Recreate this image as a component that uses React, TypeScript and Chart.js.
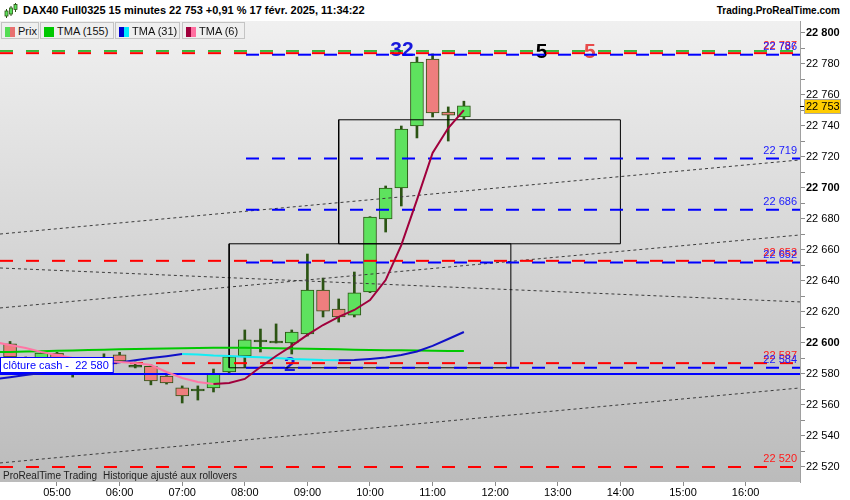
import React, { useEffect, useRef } from 'react';
import { Chart, registerables } from 'chart.js';

Chart.register(...registerables);

const FONT = '"Liberation Sans", Arial, Helvetica, sans-serif';

// ---- data (time in decimal hours, 15-minute bars) ----
const BAR_TIMES = [4.25, 4.5, 4.75, 5, 5.25, 5.5, 5.75, 6, 6.25, 6.5, 6.75, 7, 7.25, 7.5, 7.75, 8, 8.25, 8.5, 8.75, 9, 9.25, 9.5, 9.75, 10, 10.25, 10.5, 10.75, 11, 11.25, 11.5];
const OPEN = [22599.5, 22590, 22585, 22593.5, 22588, 22584, 22587, 22592.3, 22585, 22585, 22578.7, 22571, 22569.7, 22571, 22581.3, 22591.6, 22601.3, 22600.6, 22600, 22605.8, 22634.2, 22621.9, 22618, 22632.9, 22680, 22700, 22740, 22783.2, 22749, 22745.8];
const HIGH = [22601, 22591, 22594, 22594, 22589, 22588, 22593, 22594, 22587.7, 22586, 22579, 22572.3, 22572.3, 22583.2, 22592, 22608.4, 22609, 22612.3, 22608.4, 22657.4, 22641.9, 22628.4, 22645.8, 22681.5, 22701.3, 22740, 22784.5, 22786.5, 22752.3, 22756];
const LOW = [22589, 22584, 22584, 22585, 22578, 22582, 22586, 22587.5, 22583.9, 22573, 22573.5, 22561.3, 22563.2, 22568.4, 22580, 22584.5, 22594.2, 22600, 22592.9, 22604.5, 22616.8, 22613.5, 22616.8, 22632.5, 22671.6, 22688.4, 22732.3, 22745.8, 22730.3, 22744.5];
const CLOSE = [22591, 22586, 22593.5, 22588, 22584, 22587, 22590, 22588.4, 22585, 22575.5, 22574.2, 22565.8, 22569.7, 22580, 22591, 22602, 22601.3, 22600.6, 22607, 22634.2, 22620.6, 22616.8, 22632.3, 22681.3, 22700, 22738, 22781.3, 22748.4, 22747, 22753];

const TMA_TIMES = [4, 4.25, 4.5, 4.75, 5, 5.25, 5.5, 5.75, 6, 6.25, 6.5, 6.75, 7, 7.25, 7.5, 7.75, 8, 8.25, 8.5, 8.75, 9, 9.25, 9.5, 9.75, 10, 10.25, 10.5, 10.75, 11, 11.25, 11.5];
const TMA155 = [22594.1, 22594.2, 22594.5, 22594.7, 22595.0, 22595.2, 22595.5, 22595.7, 22595.9, 22596.1, 22596.3, 22596.5, 22596.6, 22596.8, 22596.9, 22597.0, 22597.0, 22596.8, 22596.6, 22596.5, 22596.3, 22596.1, 22595.9, 22595.7, 22595.5, 22595.4, 22595.3, 22595.2, 22595.0, 22594.9, 22594.8];
const TMA31 = [22576.6, 22577.9, 22579.4, 22580.6, 22582.1, 22583.5, 22584.8, 22586.1, 22587.5, 22588.8, 22590.3, 22591.5, 22592.9, 22592.5, 22591.9, 22591.6, 22591.2, 22590.8, 22590.3, 22589.7, 22589.4, 22589.0, 22588.9, 22589.0, 22589.7, 22590.6, 22592.3, 22594.5, 22598.1, 22602.6, 22607.1];
const TMA6 = [22600.6, 22598.7, 22596.8, 22594.2, 22592.3, 22590.3, 22589.7, 22588.4, 22587.7, 22587.1, 22585.8, 22581.3, 22577.4, 22574.8, 22573.5, 22574.2, 22576.8, 22584.5, 22591.6, 22598.1, 22605.2, 22611.6, 22616.8, 22621.3, 22627.7, 22640.6, 22663.2, 22692.3, 22722.6, 22738.7, 22750.3];

const RED_LEVELS = [22787, 22653, 22587, 22520];
const BLUE_LEVELS = [22786, 22719, 22686, 22652, 22584];
const BLUE_LEVEL_START = 8;
const GREEN_LEVEL = 22788.4;
const CASH_CLOSE = 22580;
const LAST_PRICE = 22753;

const RECT_X0 = [7.75, 9.5];
const RECT_X1 = [12.25, 14];
const RECT_Y0 = [22584, 22664];
const RECT_Y1 = [22664, 22744];

const TREND_Y_START = [22670.3, 22648.4, 22622.6, 22522.6];
const TREND_Y_END = [22718.1, 22626.5, 22669.7, 22571.0];

const MARK_TEXT = ['32', '5', '5', '2'];
const MARK_X = [10.51, 12.74, 13.51, 8.72];
const MARK_Y = [22789, 22787.5, 22787.5, 22585.8];
const MARK_COLOR = ['#1818dc', '#000000', '#e84a4a', '#1818dc'];

const HOUR_TICKS = [5, 6, 7, 8, 9, 10, 11, 12, 13, 14, 15, 16];
const Y_TICK_MIN = 22520;
const Y_TICK_MAX = 22800;

const X_MIN = 4.0895;
const X_MAX = 16.869;
const Y_MIN = 22510.32;
const Y_MAX = 22807.74;

// ---- styles ----
const GREEN_BODY = '#5ee25e';
const RED_BODY = '#ee7e7e';
const DARK = '#2b5413';
const RED = '#ff0000';
const BLUE = '#0000ff';

const fmt = (v: number) => Math.round(v).toString().replace(/\B(?=(\d{3})+(?!\d))/g, ' ');

function buildConfig(): any {
  const wickData = BAR_TIMES.map((t, i) => ({ x: t, y: [LOW[i], HIGH[i]] }));
  const bodyData = BAR_TIMES.map((t, i) => {
    const o = OPEN[i];
    const c = CLOSE[i];
    if (Math.abs(o - c) < 0.3) return { x: t, y: [c - 0.6, c + 0.6] };
    return { x: t, y: [Math.min(o, c), Math.max(o, c)] };
  });
  const bodyColors = BAR_TIMES.map((_, i) =>
    CLOSE[i] > OPEN[i] + 0.3 ? GREEN_BODY : CLOSE[i] < OPEN[i] - 0.3 ? RED_BODY : DARK
  );

  const line = (extra: any) => ({
    type: 'line',
    pointRadius: 0,
    pointHoverRadius: 0,
    fill: false,
    tension: 0,
    borderCapStyle: 'butt',
    ...extra,
  });

  const datasets: any[] = [
    {
      type: 'bar',
      data: wickData,
      backgroundColor: DARK,
      borderWidth: 0,
      barThickness: 2,
      grouped: false,
      order: 100,
    },
    {
      type: 'bar',
      data: bodyData,
      backgroundColor: bodyColors,
      borderColor: DARK,
      borderWidth: 1,
      borderSkipped: false,
      barThickness: 13,
      grouped: false,
      order: 99,
    },
  ];

  TREND_Y_START.forEach((ys, i) => {
    datasets.push(
      line({
        data: [{ x: X_MIN, y: ys }, { x: X_MAX, y: TREND_Y_END[i] }],
        borderColor: '#3c3c3c',
        borderWidth: 1,
        borderDash: [3, 3],
        order: 50,
      })
    );
  });

  RECT_X0.forEach((x0, i) => {
    const x1 = RECT_X1[i];
    const y0 = RECT_Y0[i];
    const y1 = RECT_Y1[i];
    datasets.push(
      line({
        data: [
          { x: x0, y: y0 },
          { x: x1, y: y0 },
          { x: x1, y: y1 },
          { x: x0, y: y1 },
          { x: x0, y: y0 },
        ],
        borderColor: '#000000',
        borderWidth: 1,
        order: 40,
      })
    );
  });

  datasets.push(
    line({
      data: [{ x: X_MIN, y: GREEN_LEVEL }, { x: X_MAX, y: GREEN_LEVEL }],
      borderColor: '#00a800',
      borderWidth: 1.5,
      borderDash: [13, 13],
      order: 29,
    })
  );
  RED_LEVELS.forEach((v) => {
    datasets.push(
      line({
        data: [{ x: X_MIN, y: v }, { x: X_MAX, y: v }],
        borderColor: RED,
        borderWidth: 2,
        borderDash: [13, 13],
        order: 30,
      })
    );
  });
  BLUE_LEVELS.forEach((v) => {
    datasets.push(
      line({
        data: [{ x: BLUE_LEVEL_START, y: v }, { x: X_MAX, y: v }],
        borderColor: BLUE,
        borderWidth: 2,
        borderDash: [13, 13],
        borderDashOffset: 24.8,
        order: 30,
      })
    );
  });
  datasets.push(
    line({
      data: [{ x: X_MIN, y: CASH_CLOSE }, { x: X_MAX, y: CASH_CLOSE }],
      borderColor: BLUE,
      borderWidth: 2,
      order: 28,
    })
  );

  datasets.push(
    line({
      data: TMA_TIMES.map((t, i) => ({ x: t, y: TMA155[i] })),
      borderColor: '#00c800',
      borderWidth: 2,
      order: 10,
    })
  );
  datasets.push(
    line({
      data: TMA_TIMES.map((t, i) => ({ x: t, y: TMA31[i] })),
      borderColor: '#1010c8',
      borderWidth: 2,
      segment: {
        borderColor: (c: any) => (c.p1.parsed.y >= c.p0.parsed.y ? '#1010c8' : '#12eef5'),
      },
      order: 9,
    })
  );
  datasets.push(
    line({
      data: TMA_TIMES.map((t, i) => ({ x: t, y: TMA6[i] })),
      borderColor: '#a0003c',
      borderWidth: 2,
      segment: {
        borderColor: (c: any) => (c.p1.parsed.y >= c.p0.parsed.y ? '#a0003c' : '#ff76a4'),
      },
      order: 8,
    })
  );

  const yTicks: number[] = [];
  for (let v = Y_TICK_MIN; v <= Y_TICK_MAX; v += 10) yTicks.push(v);

  const overlay = {
    id: 'overlay',
    beforeDraw(chart: any) {
      const { ctx, chartArea: a } = chart;
      const g = ctx.createLinearGradient(0, a.top, 0, a.bottom);
      g.addColorStop(0, '#f0f0f0');
      g.addColorStop(1, '#bbbbbb');
      ctx.save();
      ctx.fillStyle = g;
      ctx.fillRect(a.left, a.top, a.right - a.left, a.bottom - a.top);
      ctx.restore();
    },
    beforeDatasetsDraw(chart: any) {
      const { ctx, scales } = chart;
      ctx.save();
      ctx.font = `bold 21px ${FONT}`;
      ctx.textAlign = 'center';
      ctx.textBaseline = 'middle';
      MARK_TEXT.forEach((txt, i) => {
        ctx.fillStyle = MARK_COLOR[i];
        ctx.fillText(txt, scales.x.getPixelForValue(MARK_X[i]), scales.y.getPixelForValue(MARK_Y[i]));
      });
      ctx.restore();
    },
    afterDatasetsDraw(chart: any) {
      const { ctx, chartArea: a, scales } = chart;
      const y = scales.y;
      ctx.save();
      ctx.font = `11px ${FONT}`;
      ctx.textAlign = 'right';
      ctx.textBaseline = 'alphabetic';
      RED_LEVELS.forEach((v) => {
        ctx.fillStyle = '#ff1a1a';
        ctx.fillText(fmt(v), a.right - 3, y.getPixelForValue(v) - 4.5);
      });
      BLUE_LEVELS.forEach((v) => {
        ctx.fillStyle = '#1a1aff';
        ctx.fillText(fmt(v), a.right - 3, y.getPixelForValue(v) - 4.5);
      });

      // cash close label
      const cy = y.getPixelForValue(CASH_CLOSE);
      const cashText = 'clôture cash -  ' + fmt(CASH_CLOSE);
      ctx.textAlign = 'left';
      ctx.textBaseline = 'middle';
      const w = ctx.measureText(cashText).width + 7;
      ctx.fillStyle = '#ffffff';
      ctx.fillRect(a.left, cy - 16.5, w, 15);
      ctx.strokeStyle = BLUE;
      ctx.lineWidth = 1;
      ctx.strokeRect(a.left + 0.5, cy - 16.5, w, 15);
      ctx.fillStyle = BLUE;
      ctx.fillText(cashText, a.left + 3, cy - 8.5);

      // last price tag on axis
      const py = Math.round(y.getPixelForValue(LAST_PRICE));
      ctx.strokeStyle = '#000';
      ctx.beginPath();
      ctx.moveTo(a.right, py + 0.5);
      ctx.lineTo(a.right + 4, py + 0.5);
      ctx.stroke();
      ctx.fillStyle = '#ffcc00';
      ctx.fillRect(a.right + 4, py - 7, 37, 15);
      ctx.strokeStyle = '#a8a8a8';
      ctx.strokeRect(a.right + 4.5, py - 6.5, 36, 14);
      ctx.fillStyle = '#000';
      ctx.fillText(fmt(LAST_PRICE), a.right + 6, py + 1);
      ctx.restore();
    },
  };

  return {
    type: 'bar',
    data: { datasets },
    options: {
      animation: false,
      responsive: false,
      maintainAspectRatio: false,
      events: [],
      layout: { padding: 0 },
      plugins: {
        legend: { display: false },
        tooltip: { enabled: false },
        title: { display: false },
      },
      scales: {
        x: {
          type: 'linear',
          min: X_MIN,
          max: X_MAX,
          offset: false,
          grid: { display: true, offset: false, drawOnChartArea: false, drawTicks: true, tickLength: 4, color: '#8c8c8c' },
          border: { display: false },
          afterBuildTicks: (s: any) => {
            s.ticks = HOUR_TICKS.map((v) => ({ value: v }));
          },
          afterFit: (s: any) => {
            s.height = 18;
            s.paddingLeft = 0;
            s.paddingRight = 0;
          },
          ticks: {
            autoSkip: false,
            maxRotation: 0,
            padding: 0,
            color: '#000',
            font: { family: FONT, size: 11 },
            callback: (v: any) => `${String(v).padStart(2, '0')}:00`,
          },
        },
        y: {
          type: 'linear',
          position: 'right',
          min: Y_MIN,
          max: Y_MAX,
          beginAtZero: false,
          grid: { display: true, drawOnChartArea: false, drawTicks: true, tickLength: 5, color: '#8c8c8c' },
          border: { display: true, color: '#a0a0a0', width: 1 },
          afterBuildTicks: (s: any) => {
            s.ticks = yTicks.map((v) => ({ value: v }));
          },
          afterFit: (s: any) => {
            s.width = 50;
            s.paddingTop = 0;
            s.paddingBottom = 0;
          },
          ticks: {
            autoSkip: false,
            padding: 1,
            color: '#000',
            font: (c: any) => ({
              family: FONT,
              size: 11,
              weight: c.tick && c.tick.value % 100 === 0 ? 'bold' : 'normal',
            }),
            callback: (v: any) => (Number(v) % 20 === 0 ? fmt(Number(v)) : ''),
          },
        },
      },
    },
    plugins: [overlay],
  };
}

const LEGEND_LABELS = ['Prix', 'TMA (155)', 'TMA (31)', 'TMA (6)'];
const LEGEND_COLORS = [
  ['#55dd55', '#e87070'],
  ['#00c800', '#00c800'],
  ['#0000cc', '#00e8ff'],
  ['#a0003c', '#ff6fa0'],
];
const LEGEND_LEFT = [1, 40, 115, 182];
const LEGEND_WIDTH = [38, 74, 65, 63];

export default function App() {
  const ref = useRef<HTMLCanvasElement>(null);

  useEffect(() => {
    const canvas = ref.current;
    if (!canvas) return;
    const chart = new Chart(canvas, buildConfig());
    return () => chart.destroy();
  }, []);

  return (
    <div
      style={{
        position: 'absolute',
        left: 0,
        top: 0,
        width: 850,
        height: 500,
        background: '#ffffff',
        overflow: 'hidden',
        fontFamily: FONT,
      }}
    >
      <canvas
        ref={ref}
        width={850}
        height={479}
        style={{ position: 'absolute', left: 0, top: 21, width: 850, height: 479 }}
      />
      {/* header */}
      <div style={{ position: 'absolute', left: 0, top: 0, width: 850, height: 21, background: '#fff' }}>
        <svg style={{ position: 'absolute', left: 4, top: 3 }} width={14} height={16}>
          <line x1={2.5} y1={6} x2={2.5} y2={15} stroke="#2b5413" strokeWidth={1} />
          <rect x={1} y={8} width={3} height={5} fill="#5ee25e" stroke="#2b5413" strokeWidth={0.8} />
          <line x1={7} y1={3} x2={7} y2={13} stroke="#2b5413" strokeWidth={1} />
          <rect x={5.5} y={5} width={3} height={6} fill="#5ee25e" stroke="#2b5413" strokeWidth={0.8} />
          <line x1={11.5} y1={0} x2={11.5} y2={9} stroke="#2b5413" strokeWidth={1} />
          <rect x={10} y={1.5} width={3} height={5} fill="#5ee25e" stroke="#2b5413" strokeWidth={0.8} />
        </svg>
        <span
          style={{
            position: 'absolute',
            left: 23,
            top: 4,
            fontSize: 11,
            lineHeight: '13px',
            fontWeight: 'bold',
            color: '#000',
            whiteSpace: 'nowrap',
          }}
        >
          DAX40 Full0325 15 minutes 22 753 +0,91 % 17 févr. 2025, 11:34:22
        </span>
        <span
          style={{
            position: 'absolute',
            right: 10,
            top: 4,
            fontSize: 10,
            lineHeight: '13px',
            fontWeight: 'bold',
            color: '#000',
            whiteSpace: 'nowrap',
          }}
        >
          Trading.ProRealTime.com
        </span>
      </div>
      {/* legend */}
      {LEGEND_LABELS.map((lab, i) => (
        <div
          key={lab}
          style={{
            position: 'absolute',
            left: LEGEND_LEFT[i],
            top: 22,
            width: LEGEND_WIDTH[i],
            height: 17,
            boxSizing: 'border-box',
            border: '1px solid #c4c4c4',
            background: '#efefef',
          }}
        >
          <div
            style={{
              position: 'absolute',
              left: 3,
              top: 4,
              width: 10,
              height: 10,
              background: `linear-gradient(to right, ${LEGEND_COLORS[i][0]} 50%, ${LEGEND_COLORS[i][1]} 50%)`,
            }}
          />
          <span
            style={{
              position: 'absolute',
              left: 16,
              top: 1,
              fontSize: 11,
              lineHeight: '14px',
              color: '#111',
              whiteSpace: 'nowrap',
            }}
          >
            {lab}
          </span>
        </div>
      ))}
      {/* footer note */}
      <span
        style={{
          position: 'absolute',
          left: 3,
          top: 469,
          fontSize: 10,
          lineHeight: '14px',
          color: '#222',
          whiteSpace: 'nowrap',
        }}
      >
        ProRealTime Trading
      </span>
      <span
        style={{
          position: 'absolute',
          left: 103,
          top: 469,
          fontSize: 10,
          lineHeight: '14px',
          color: '#222',
          whiteSpace: 'nowrap',
        }}
      >
        Historique ajusté aux rollovers
      </span>
    </div>
  );
}
